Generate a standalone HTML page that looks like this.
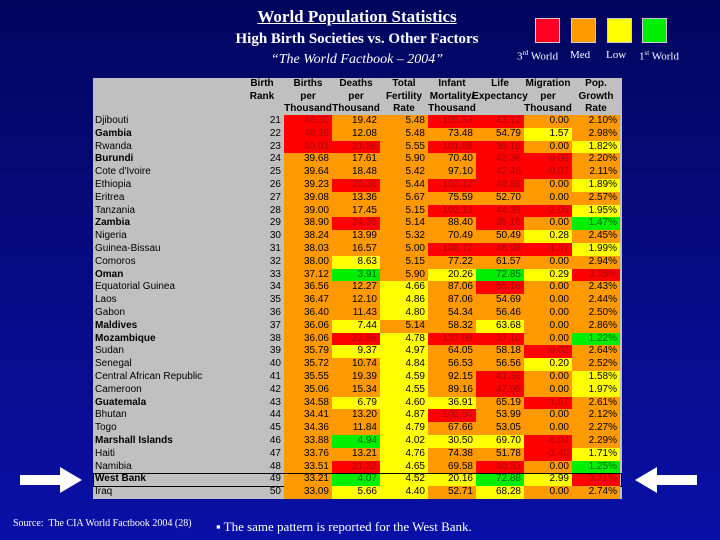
<!DOCTYPE html>
<html><head><meta charset="utf-8"><style>
html,body{margin:0;padding:0}
body{width:720px;height:540px;overflow:hidden;position:relative;background:linear-gradient(#00065e,#0a10a6);font-family:"Liberation Sans",sans-serif}
.abs{position:absolute}
.ser{font-family:"Liberation Serif",serif;color:#fff}
#panel{left:93px;top:78px;width:529px;height:421px;background:#c0c0c0}
.hd{position:absolute;font-size:10px;font-weight:bold;text-align:center;line-height:12.5px;color:#000;white-space:nowrap}
.cell{position:absolute;font-size:10px;text-align:right;box-sizing:border-box;padding-right:3px;line-height:12.8px;height:12.8px}
.nm{position:absolute;font-size:10px;line-height:12.8px;left:2px;color:#000;white-space:nowrap}
.lg{position:absolute;width:23px;height:23px;border:1px solid #ccc}
</style></head><body>
<div class="abs ser" style="left:0;width:714px;top:7px;text-align:center;font-size:17px;font-weight:bold;text-decoration:underline">World Population Statistics</div>
<div class="abs ser" style="left:0;width:714px;top:31px;text-align:center;font-size:15px;font-weight:bold">High Birth Societies vs. Other Factors</div>
<div class="abs ser" style="left:0;width:714px;top:52px;text-align:center;font-size:14px;font-style:italic">“The World Factbook – 2004”</div>

<div class="lg" style="left:535px;top:18px;background:#ff0022"></div>
<div class="lg" style="left:571px;top:18px;background:#ff9900"></div>
<div class="lg" style="left:607px;top:18px;background:#ffff00"></div>
<div class="lg" style="left:642px;top:18px;background:#00ee00"></div>
<div class="abs ser" style="left:517px;top:49px;font-size:11px">3<sup style="font-size:7px">rd</sup> World</div>
<div class="abs ser" style="left:570px;top:49px;font-size:11px">Med</div>
<div class="abs ser" style="left:606px;top:49px;font-size:11px">Low</div>
<div class="abs ser" style="left:639px;top:49px;font-size:11px">1<sup style="font-size:7px">st</sup> World</div>

<div id="panel" class="abs"></div>

<svg class="abs" style="left:18px;top:466px" width="66" height="28"><polygon points="2,9 42,9 42,1 64,14 42,27 42,19 2,19" fill="#fff"/></svg>
<svg class="abs" style="left:633px;top:466px" width="66" height="28"><polygon points="64,9 24,9 24,1 2,14 24,27 24,19 64,19" fill="#fff"/></svg>

<div class="abs ser" style="left:13px;top:518px;font-size:10px">Source:&nbsp; The CIA World Factbook 2004 (28)</div>
<div class="abs ser" style="left:216px;top:519px;font-size:13px">▪ The same pattern is reported for the West Bank.</div>

<script>
const countries=["Djibouti","Gambia","Rwanda","Burundi","Cote d'Ivoire","Ethiopia","Eritrea","Tanzania","Zambia","Nigeria","Guinea-Bissau","Comoros","Oman","Equatorial Guinea","Laos","Gabon","Maldives","Mozambique","Sudan","Senegal","Central African Republic","Cameroon","Guatemala","Bhutan","Togo","Marshall Islands","Haiti","Namibia","West Bank","Iraq"];
const ranks=[21,22,23,24,25,26,27,28,29,30,31,32,33,34,35,36,37,38,39,40,41,42,43,44,45,46,47,48,49,50];
const births=["40.30","40.30","40.01","39.68","39.64","39.23","39.08","39.00","38.90","38.24","38.03","38.00","37.12","36.56","36.47","36.40","36.06","36.06","35.79","35.72","35.55","35.06","34.58","34.41","34.36","33.88","33.76","33.51","33.21","33.09"];
const deaths=["19.42","12.08","21.86","17.61","18.48","20.36","13.36","17.45","24.35","13.99","16.57","8.63","3.91","12.27","12.10","11.43","7.44","23.86","9.37","10.74","19.39","15.34","6.79","13.20","11.84","4.94","13.21","21.32","4.07","5.66"];
const fertility=["5.48","5.48","5.55","5.90","5.42","5.44","5.67","5.15","5.14","5.32","5.00","5.15","5.90","4.66","4.86","4.80","5.14","4.78","4.97","4.84","4.59","4.55","4.60","4.87","4.79","4.02","4.76","4.65","4.52","4.40"];
const infant=["105.54","73.48","101.68","70.40","97.10","102.12","75.59","102.13","88.40","70.49","108.72","77.22","20.26","87.06","87.06","54.34","58.32","137.08","64.05","56.53","92.15","89.16","36.91","102.50","67.66","30.50","74.38","69.58","20.16","52.71"];
const life=["43.12","54.79","39.18","43.36","42.48","40.88","52.70","44.39","35.18","50.49","46.98","61.57","72.85","55.16","54.69","56.46","63.68","37.10","58.18","56.56","41.36","47.95","65.19","53.99","53.05","69.70","51.78","40.53","72.88","68.28"];
const migration=["0.00","1.57","0.00","-0.06","-0.07","0.00","0.00","-2.06","0.00","0.28","-1.57","0.00","0.29","0.00","0.00","0.00","0.00","0.00","-0.02","0.20","0.00","0.00","-1.67","0.00","0.00","-6.04","-3.40","0.00","2.99","0.00"];
const growth=["2.10%","2.98%","1.82%","2.20%","2.11%","1.89%","2.57%","1.95%","1.47%","2.45%","1.99%","2.94%","3.35%","2.43%","2.44%","2.50%","2.86%","1.22%","2.64%","2.52%","1.58%","1.97%","2.61%","2.12%","2.27%","2.29%","1.71%","1.25%","3.21%","2.74%"];
const ratings=["ROORROO","ROOOOYO","RRORROY","OOOORRO","OOOORRO","ORORROY","OOOOOOO","OOORRRY","OROOROG","OOOOOYO","OOORRRY","OYOOOOO","OGOYGYR","OOYOROO","OOYOOOO","OOYOOOO","OYOOYOO","ORYRROG","OYYOORO","OOYOOYO","OOYOROY","OOYOROY","OYYYORO","OOYROOO","OOYOOOO","OGYYYRO","OOYOORY","ORYOROG","OGYYGYR","OYYOYOO"];
const boldRows=["Gambia","Burundi","Zambia","Oman","Maldives","Mozambique","Guatemala","Marshall Islands","West Bank"];
const headers=[["Birth","Rank",""],["Births","per","Thousand"],["Deaths","per","Thousand"],["Total","Fertility","Rate"],["Infant","Mortality/","Thousand"],["Life","Expectancy",""],["Migration","per","Thousand"],["Pop.","Growth","Rate"]];

const panel=document.getElementById('panel');
const colors={R:"#ff0000",O:"#ff9900",Y:"#ffff00",G:"#00ee00"};
const textCol={R:"#b00000",O:"#000",Y:"#000",G:"#006600"};
const rowTop=37, rowH=12.8, colX0=191, colW=48;
function rowY(i){return rowTop+i*rowH;}
function colX(j){return colX0+j*colW;}
headers.forEach((h,j)=>{
  const d=document.createElement('div');
  d.className='hd';
  
  
  const cx = j===0 ? 169 : colX(j-1)+colW/2;
  d.style.left=(cx-35)+'px';d.style.width='70px';d.style.top='0px';
  d.innerHTML=h.join('<br>');
  panel.appendChild(d);
});
const cols=[births,deaths,fertility,infant,life,migration,growth];
countries.forEach((c,i)=>{
  const y=rowY(i);
  const n=document.createElement('div');
  n.className='nm';
  
  
  n.style.top=y+'px';
  if(boldRows.includes(c)) n.style.fontWeight='bold';
  n.textContent=c;panel.appendChild(n);
  const r=document.createElement('div');
  r.className='cell';
  
  
  r.style.left='150px';r.style.width='41px';r.style.top=y+'px';r.style.color='#000';
  r.textContent=ranks[i];panel.appendChild(r);
  cols.forEach((arr,j)=>{
    const k=ratings[i][j];
    const e=document.createElement('div');
    e.className='cell';
    
    
    e.style.left=colX(j)+'px';e.style.width=colW+'px';e.style.top=y+'px';
    e.style.background=colors[k];e.style.color=textCol[k];
    e.textContent=arr[i];panel.appendChild(e);
  });
  if(c==="West Bank"){
    const b=document.createElement('div');
    
    
    b.style.cssText='position:absolute;left:0;width:529px;box-sizing:border-box;border:1px solid #000;height:'+(rowH+1)+'px;top:'+(y-0.5)+'px';
    panel.appendChild(b);
  }
});
</script>
</body></html>
